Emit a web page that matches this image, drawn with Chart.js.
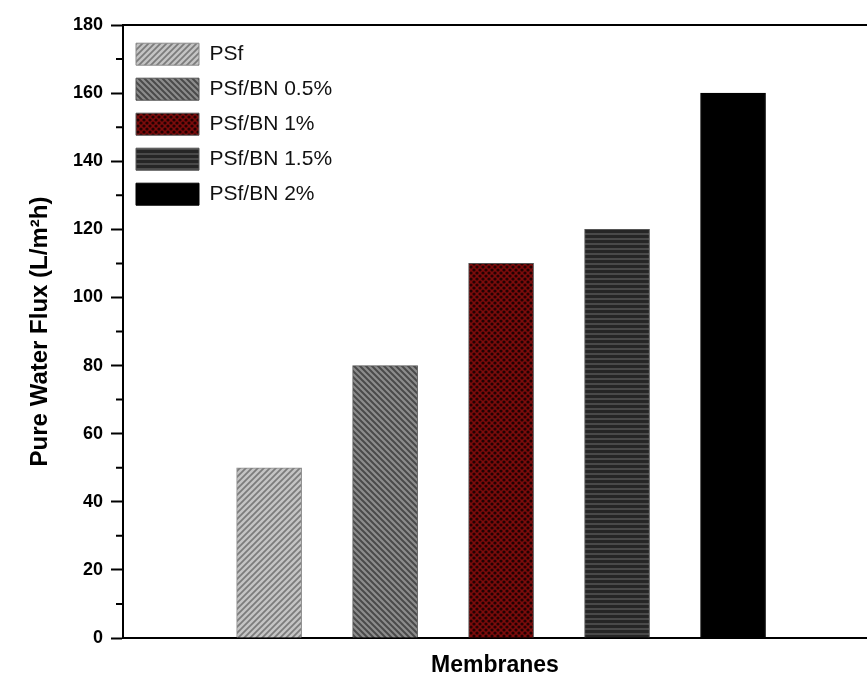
<!DOCTYPE html>
<html>
<head>
<meta charset="utf-8">
<script src="https://cdn.jsdelivr.net/npm/chart.js@4"></script>
<style>
  html, body { margin: 0; padding: 0; background: #fff; }
  #wrap { width: 867px; height: 688px; }
</style>
</head>
<body>
<div id="wrap"><canvas id="fluxChart" width="867" height="688"></canvas></div>
<script>
/* ── DADOS ── */
const membranes = ['PSf', 'PSf/BN 0.5%', 'PSf/BN 1%', 'PSf/BN 1.5%', 'PSf/BN 2%'];
const fluxValues = [50, 80, 110, 120, 160];
const barPositions = [1, 2, 3, 4, 5];
const yTicks = [0, 20, 40, 60, 80, 100, 120, 140, 160, 180];
const yMinorTicks = [10, 30, 50, 70, 90, 110, 130, 150, 170];

const FONT = "'Liberation Sans', Arial, sans-serif";

/* ── PADRÕES (hachuras) ── */
function makePattern(size, draw) {
    const c = document.createElement('canvas');
    c.width = size;
    c.height = size;
    const g = c.getContext('2d');
    draw(g, size);
    return g.createPattern(c, 'repeat');
}

const patternPSf = makePattern(6, (g, s) => {
    g.fillStyle = '#c4c4c4';
    g.fillRect(0, 0, s, s);
    g.strokeStyle = '#7c7c7c';
    g.lineWidth = 1.8;
    g.beginPath();
    g.moveTo(-1, s + 1); g.lineTo(s + 1, -1);
    g.moveTo(-1, 1); g.lineTo(1, -1);
    g.moveTo(s - 1, s + 1); g.lineTo(s + 1, s - 1);
    g.stroke();
});

const pattern05 = makePattern(6, (g, s) => {
    g.fillStyle = '#8c8c8c';
    g.fillRect(0, 0, s, s);
    g.strokeStyle = '#4a4a4a';
    g.lineWidth = 2;
    g.beginPath();
    g.moveTo(-1, -1); g.lineTo(s + 1, s + 1);
    g.moveTo(s - 1, -1); g.lineTo(s + 1, 1);
    g.moveTo(-1, s - 1); g.lineTo(1, s + 1);
    g.stroke();
});

const pattern1 = makePattern(6, (g, s) => {
    g.fillStyle = '#7c0c0c';
    g.fillRect(0, 0, s, s);
    g.fillStyle = '#220202';
    g.beginPath();
    g.arc(0, 0, 1.6, 0, Math.PI * 2);
    g.arc(s, 0, 1.6, 0, Math.PI * 2);
    g.fill();
    g.beginPath();
    g.arc(0, s, 1.6, 0, Math.PI * 2);
    g.arc(s, s, 1.6, 0, Math.PI * 2);
    g.fill();
    g.beginPath();
    g.arc(s / 2, s / 2, 1.6, 0, Math.PI * 2);
    g.fill();
});

const pattern15 = makePattern(5, (g, s) => {
    g.fillStyle = '#262626';
    g.fillRect(0, 0, s, s);
    g.fillStyle = '#4a4a4a';
    g.fillRect(0, 3, s, 2);
});

const barFills = [patternPSf, pattern05, pattern1, pattern15, '#000000'];
const barBorders = ['#8a8a8a', '#555555', '#555555', '#555555', '#000000'];

/* ── PLUGINS ── */
const frameAndMinorTicks = {
    id: 'frameAndMinorTicks',
    afterDraw(chart) {
        const { ctx, chartArea } = chart;
        const y = chart.scales.y;
        ctx.save();
        ctx.strokeStyle = '#000';
        ctx.lineWidth = 2;
        ctx.beginPath();
        ctx.moveTo(chartArea.left - 1, chartArea.top);
        ctx.lineTo(chartArea.right, chartArea.top);
        yMinorTicks.forEach(v => {
            const py = y.getPixelForValue(v);
            ctx.moveTo(chartArea.left - 7, py);
            ctx.lineTo(chartArea.left, py);
        });
        ctx.stroke();
        ctx.restore();
    }
};

/* ── GRÁFICO ── */
const ctx = document.getElementById('fluxChart');

const datasets = membranes.map((name, i) => ({
    label: name,
    data: [{ x: barPositions[i], y: fluxValues[i] }],
    backgroundColor: barFills[i],
    borderColor: barBorders[i],
    borderWidth: 1,
    barThickness: 65,
    grouped: false
}));

const fluxChart = new Chart(ctx, {
    type: 'bar',
    data: { datasets },
    plugins: [frameAndMinorTicks],
    options: {
        responsive: false,
        animation: false,
        layout: {
            padding: { top: 25, right: 0, left: 0, bottom: 0 }
        },
        plugins: {
            tooltip: { enabled: false },
            legend: {
                position: 'chartArea',
                align: 'start',
                title: {
                    display: true,
                    text: '',
                    font: { size: 1 },
                    padding: { top: 14, bottom: 15 }
                },
                labels: {
                    boxWidth: 63,
                    boxHeight: 22,
                    padding: 13,
                    color: '#111',
                    font: { family: FONT, size: 21 }
                }
            }
        },
        scales: {
            x: {
                type: 'linear',
                offset: false,
                min: -0.26,
                max: 6.155,
                afterFit: (scale) => { scale.height = 50; },
                ticks: { display: false },
                grid: { display: true, drawOnChartArea: false, drawTicks: false },
                border: { display: true, color: '#000', width: 2 },
                title: {
                    display: true,
                    text: 'Membranes',
                    color: '#000',
                    font: { family: FONT, size: 23, weight: 'bold' },
                    padding: { top: 0, bottom: 9 }
                }
            },
            y: {
                min: 0,
                max: 180,
                afterFit: (scale) => { scale.width = 123; },
                afterBuildTicks: (scale) => {
                    scale.ticks = yTicks.map(v => ({ value: v }));
                },
                ticks: {
                    color: '#000',
                    padding: 8,
                    font: { family: FONT, size: 18, weight: 'bold' }
                },
                grid: {
                    drawOnChartArea: false,
                    tickLength: 12,
                    tickWidth: 2,
                    tickColor: '#000'
                },
                border: { display: true, color: '#000', width: 2 },
                title: {
                    display: true,
                    text: 'Pure Water Flux (L/m²h)',
                    color: '#000',
                    font: { family: FONT, size: 24, weight: 'bold' },
                    padding: { top: 26, bottom: 0 }
                }
            }
        }
    }
});
</script>
</body>
</html>
